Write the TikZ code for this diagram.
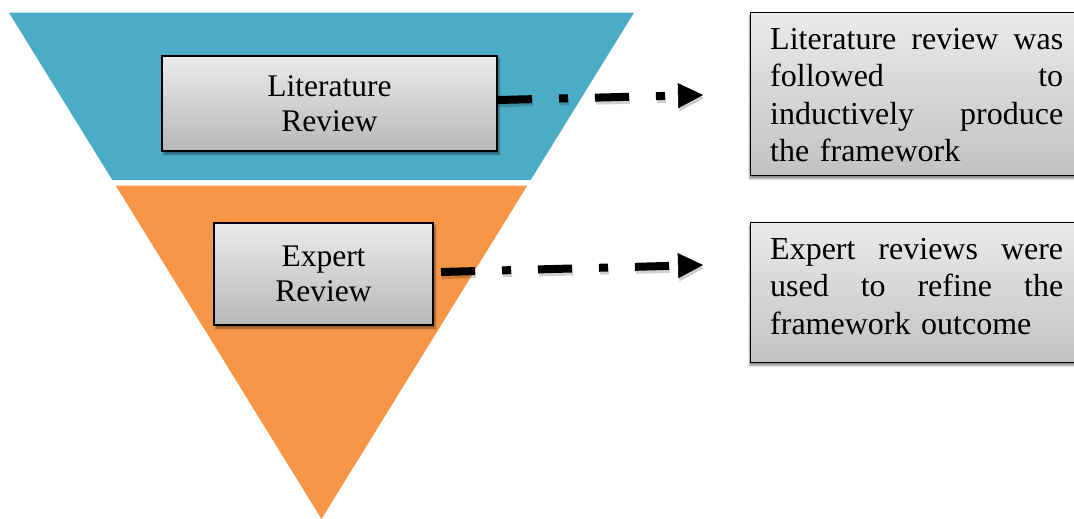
\documentclass[tikz,border=0pt]{standalone}
\usepackage{fontspec}
\setmainfont{Liberation Serif}
\usetikzlibrary{arrows.meta,shadows.blur}

\definecolor{funnelblue}{HTML}{4BACC6}
\definecolor{funnelorange}{HTML}{F79646}

% one justified line of fixed width
\newcommand{\jline}[1]{\leavevmode\hbox to 293pt{#1}}

\begin{document}
\begin{tikzpicture}[x=1pt,y=-1pt,
  stagebox/.style={draw=black, line width=2pt,
    top color=black!8, bottom color=black!28,
    blur shadow={shadow xshift=2pt, shadow yshift=-3pt,
      shadow opacity=45, shadow blur steps=6},
    inner sep=0pt, align=center,
    font=\fontsize{31.5}{35}\selectfont},
  notebox/.style={draw=black, line width=1.4pt,
    top color=black!8, bottom color=black!24,
    blur shadow={shadow xshift=-1pt, shadow yshift=-3pt,
      shadow opacity=45, shadow blur steps=6},
    inner sep=0pt, anchor=north west},
  notetext/.style={inner sep=0pt, anchor=north west, align=left,
    text width=293pt, font=\fontsize{32}{37.3}\selectfont},
  connector/.style={line width=8pt,
    dash pattern=on 34pt off 27pt on 9pt off 27pt,
    -{Triangle[length=25pt,width=25pt,line width=0.5pt]}},
  connshadow/.style={connector, draw=black, opacity=0.18}
]
\useasboundingbox (0,0) rectangle (1074,519);
\begin{scope}
\clip (0,0) rectangle (1074,519);

% funnel: two slices of one inverted triangle
\fill[funnelblue] (9,12.7) -- (634,12.7) -- (530.7,180) -- (112.3,180) -- cycle;
\fill[funnelorange] (115.7,185.5) -- (527.3,185.5) -- (321.5,519) -- cycle;

% stage boxes
\node[stagebox, minimum width=335pt, minimum height=95pt] (lit) at (329.5,103.5)
  {Literature\\Review};
\node[stagebox, minimum width=219pt, minimum height=102pt] (exp) at (323.5,274)
  {Expert\\Review};

% description boxes
\node[notebox, minimum width=345pt, minimum height=163pt] (note1) at (750,12) {};
\node[notetext] (note1text) at (770,28.2)
  {\jline{Literature\hfill review\hfill was}\\
   \jline{followed\hfill to}\\
   \jline{inductively\hfill produce}\\
   the framework};

\node[notebox, minimum width=345pt, minimum height=140pt] (note2) at (750,222) {};
\node[notetext] (note2text) at (770,238.2)
  {\jline{Expert\hfill reviews\hfill were}\\
   \jline{used\hfill to\hfill refine\hfill the}\\
   framework outcome};

% dash-dot connectors
\coordinate (tip1) at (703,95);
\coordinate (tip2) at (703,265);

\draw[connshadow] ([xshift=1pt,yshift=0.5pt]lit.east) -- ([xshift=1pt,yshift=-3pt]tip1);
\draw[connshadow] ([xshift=8pt,yshift=-1pt]exp.east) -- ([xshift=1pt,yshift=-3pt]tip2);

\draw[connector] ([yshift=3.5pt]lit.east) -- (tip1);
\draw[connector] ([xshift=7pt,yshift=2pt]exp.east) -- (tip2);
\end{scope}
\end{tikzpicture}
\end{document}
